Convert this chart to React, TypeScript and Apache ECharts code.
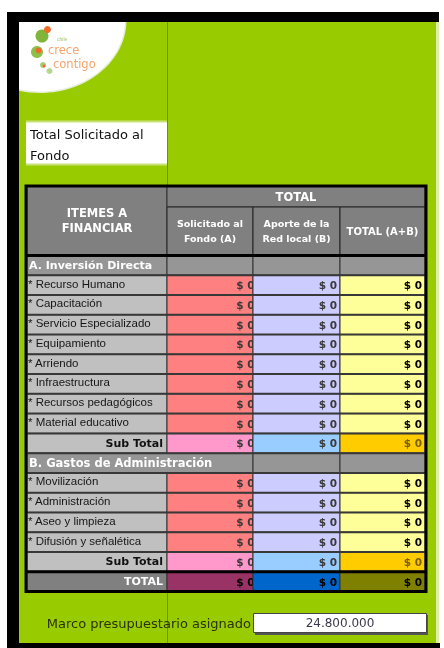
import React, { useEffect, useRef } from "react";
import * as echarts from "echarts";

// ---------- data ----------
const sectionALabel = "A. Inversión Directa";
const sectionBLabel = "B. Gastos de Administración";
const itemsA = [
  "Recurso Humano",
  "Capacitación",
  "Servicio Especializado",
  "Equipamiento",
  "Arriendo",
  "Infraestructura",
  "Recursos pedagógicos",
  "Material educativo",
];
const itemsB = ["Movilización", "Administración", "Aseo y limpieza", "Difusión y señalética"];
const solicitadoA = [0, 0, 0, 0, 0, 0, 0, 0];
const aporteA = [0, 0, 0, 0, 0, 0, 0, 0];
const totalA = [0, 0, 0, 0, 0, 0, 0, 0];
const solicitadoB = [0, 0, 0, 0];
const aporteB = [0, 0, 0, 0];
const totalB = [0, 0, 0, 0];
const subTotalA = [0, 0, 0];
const subTotalB = [0, 0, 0];
const grandTotal = [0, 0, 0];
const headerTop = "TOTAL";
const headerItems = "ITEMES A\nFINANCIAR";
const headerCols = ["Solicitado al\nFondo (A)", "Aporte de la\nRed local (B)", "TOTAL (A+B)"];
const subTotalLabel = "Sub Total";
const totalLabel = "TOTAL";
const titleBox = "Total Solicitado al\nFondo";
const budgetLabel = "Marco presupuestario asignado";
const budgetValue = "24.800.000";

// ---------- layout / styles ----------
const C = [27, 167, 253, 340, 425];
const T_TOP = 186;
const H1 = 207;
const H2 = 255.5;
const T_BOT = 591.5;

const fills: Record<string, string[]> = {
  item: ["#C0C0C0", "#FF8080", "#CCCCFF", "#FFFF99"],
  sub: ["#C0C0C0", "#FF99CC", "#99CCFF", "#FFCC00"],
  total: ["#808080", "#993366", "#0066CC", "#808000"],
  section: ["#969696", "#969696", "#969696", "#969696"],
};
const valColors: Record<string, string[]> = {
  item: ["#3a3a3a", "#3a3a3a", "#000000"],
  sub: ["#3a3a3a", "#3a3a3a", "#7a6000"],
  total: ["#000000", "#000000", "#000000"],
};

const fmt = (v: number) => "$ " + v;

function txt(x: number, y: number, text: string, font: string, fill: string, align = "left", lh?: number): any {
  const style: any = {
    text,
    font,
    fill,
    align,
    verticalAlign: "middle",
    textAlign: align,
    textVerticalAlign: "middle",
  };
  if (lh) style.lineHeight = lh;
  return { type: "text", x, y, silent: true, style };
}
function rect(x: number, y: number, w: number, h: number, fill: string, stroke?: string, lw = 1): any {
  return {
    type: "rect",
    silent: true,
    shape: { x, y, width: w, height: h },
    style: { fill, stroke: stroke || null, lineWidth: stroke ? lw : 0 },
  };
}
function line(x1: number, y1: number, x2: number, y2: number, stroke: string, lw = 1): any {
  return { type: "line", silent: true, shape: { x1, y1, x2, y2 }, style: { stroke, lineWidth: lw } };
}

type Row = { type: string; label?: string; vals?: number[] };

function buildRows(): Row[] {
  const rows: Row[] = [];
  rows.push({ type: "section", label: sectionALabel });
  itemsA.forEach((n, i) => rows.push({ type: "item", label: "* " + n, vals: [solicitadoA[i], aporteA[i], totalA[i]] }));
  rows.push({ type: "sub", label: subTotalLabel, vals: subTotalA });
  rows.push({ type: "section", label: sectionBLabel });
  itemsB.forEach((n, i) => rows.push({ type: "item", label: "* " + n, vals: [solicitadoB[i], aporteB[i], totalB[i]] }));
  rows.push({ type: "sub", label: subTotalLabel, vals: subTotalB });
  rows.push({ type: "total", label: totalLabel, vals: grandTotal });
  return rows;
}

function buildElements(): any[] {
  const els: any[] = [];
  const BOLD = "'DejaVu Sans', Verdana, sans-serif";
  const SANS = "'Liberation Sans', Arial, sans-serif";

  // page background & sheet
  els.push(rect(0, 0, 444, 648, "#ffffff"));
  els.push(rect(7, 12, 432, 636, "#000000"));
  els.push(rect(19, 22, 417, 621, "#99CC00"));
  els.push(rect(436, 22, 3, 621, "#DDEEA8"));
  els.push(line(167.5, 22, 167.5, 643, "#6E9200", 1));

  // logo
  els.push({
    type: "ellipse",
    silent: true,
    shape: { cx: 40, cy: 20, rx: 86.5, ry: 73 },
    style: { fill: "#E6EDD6" },
  });
  els.push({
    type: "ellipse",
    silent: true,
    shape: { cx: 40, cy: 20, rx: 85, ry: 71.5 },
    style: { fill: "#ffffff" },
  });
  els.push({ type: "circle", silent: true, shape: { cx: 42, cy: 36, r: 6.5 }, style: { fill: "#7FB53A" } });
  els.push({ type: "circle", silent: true, shape: { cx: 47.5, cy: 29.5, r: 3.5 }, style: { fill: "#F26A2A" } });
  els.push({ type: "circle", silent: true, shape: { cx: 37, cy: 52, r: 6 }, style: { fill: "#8CC04A" } });
  els.push({ type: "circle", silent: true, shape: { cx: 38.5, cy: 50.5, r: 3 }, style: { fill: "#F26A2A" } });
  els.push({ type: "circle", silent: true, shape: { cx: 43, cy: 65, r: 3 }, style: { fill: "#A6CC7A" } });
  els.push({ type: "circle", silent: true, shape: { cx: 44, cy: 66, r: 1.4 }, style: { fill: "#F26A2A" } });
  els.push({ type: "circle", silent: true, shape: { cx: 49.5, cy: 71, r: 3 }, style: { fill: "#B5D68E" } });
  els.push(txt(57, 39, "chile", "5px " + SANS, "#A5C46A"));
  els.push(txt(48, 49.5, "crece", "11.5px " + BOLD, "#F4A46E"));
  els.push(txt(53, 63.5, "contigo", "11.5px " + BOLD, "#F4A46E"));

  // white page margins and black frame over logo
  els.push(rect(0, 0, 444, 12, "#ffffff"));
  els.push(rect(0, 0, 7, 648, "#ffffff"));
  els.push(rect(7, 12, 432, 10, "#000000"));
  els.push(rect(7, 12, 12, 636, "#000000"));
  els.push(rect(7, 643, 433, 5, "#000000"));

  // title box
  els.push(rect(26, 121, 141, 44, "#ffffff"));
  els.push(line(26, 121.5, 167, 121.5, "#C9E27A", 2));
  els.push(line(26, 164.5, 167, 164.5, "#C9E27A", 2));
  els.push(txt(30, 145, titleBox, "13px " + BOLD, "#101010", "left", 21));

  // table body
  const rows = buildRows();
  const rowH = (T_BOT - H2) / rows.length;
  const rowY = (i: number) => H2 + i * rowH;

  // label column
  rows.forEach((r, i) => {
    const y = rowY(i);
    const f = fills[r.type];
    const mergeB = r.type === "section" && r.label === sectionBLabel;
    const w = mergeB ? C[2] - C[0] : C[1] - C[0];
    els.push(rect(C[0], y, w, rowH, f[0], "#333333", 1));
  });
  // data columns, column by column (next column covers overflow like the sheet)
  for (let c = 0; c < 3; c++) {
    rows.forEach((r, i) => {
      const y = rowY(i);
      const mergeB = r.type === "section" && r.label === sectionBLabel;
      if (mergeB && c === 0) return;
      els.push(rect(C[c + 1], y, C[c + 2] - C[c + 1], rowH, fills[r.type][c + 1], "#333333", 1));
    });
    rows.forEach((r, i) => {
      if (!r.vals) return;
      const y = rowY(i) + rowH / 2;
      const xr = c === 0 ? C[c + 2] + 1.5 : C[c + 2] - 3;
      els.push(txt(xr, y, fmt(r.vals[c]), "bold 10.5px " + BOLD, valColors[r.type][c], "right"));
    });
  }
  // horizontal separators
  for (let i = 1; i < rows.length; i++) {
    els.push(line(C[0], rowY(i), C[4], rowY(i), "#383838", 2));
  }
  // label texts
  rows.forEach((r, i) => {
    const y = rowY(i) + rowH / 2;
    if (r.type === "section") {
      const fs = r.label === sectionBLabel ? "11.5px " : "11px ";
      els.push(txt(29, y, r.label!, "bold " + fs + BOLD, "#ffffff", "left"));
    } else if (r.type === "item") {
      els.push(txt(28, y - 1.5, r.label!, "11.5px " + SANS, "#151515", "left"));
    } else if (r.type === "sub") {
      els.push(txt(163, y, r.label!, "bold 11px " + BOLD, "#111111", "right"));
    } else {
      els.push(txt(163, y, r.label!, "bold 11px " + BOLD, "#ffffff", "right"));
    }
  });

  // header
  els.push(rect(C[0], T_TOP, C[1] - C[0], H2 - T_TOP, "#808080", "#333333", 1));
  els.push(rect(C[1], T_TOP, C[4] - C[1], H1 - T_TOP, "#808080", "#333333", 1));
  for (let c = 0; c < 3; c++) {
    els.push(rect(C[c + 1], H1, C[c + 2] - C[c + 1], H2 - H1, "#808080", "#222222", 1));
  }
  els.push(txt((C[0] + C[1]) / 2, 220.5, headerItems, "bold 11.5px " + BOLD, "#ffffff", "center", 15));
  els.push(txt((C[1] + C[4]) / 2, 197, headerTop, "bold 11.5px " + BOLD, "#ffffff", "center"));
  headerCols.forEach((h, c) => {
    const cx = (C[c + 1] + C[c + 2]) / 2;
    const multi = h.indexOf("\n") >= 0;
    els.push(
      txt(cx, 231, h, (multi ? "bold 9.5px " : "bold 10px ") + BOLD, "#ffffff", "center", 15)
    );
  });

  // thick lines & outer border
  els.push(line(C[0], H2, C[4], H2, "#000000", 3));
  els.push(line(C[0], rowY(rows.length - 1), C[4], rowY(rows.length - 1), "#000000", 3));
  els.push({
    type: "rect",
    silent: true,
    shape: { x: 26, y: T_TOP, width: C[4] - 26 + 1, height: T_BOT - T_TOP },
    style: { fill: null, stroke: "#000000", lineWidth: 3 },
  });

  // budget
  els.push(txt(251, 623, budgetLabel, "13px " + BOLD, "#2A3300", "right"));
  els.push(rect(255, 615, 173, 20, "#555555"));
  els.push(rect(253.5, 613.5, 173, 19, "#ffffff", "#444444", 1));
  els.push(txt(340, 623, budgetValue, "12px " + BOLD, "#3A3A4A", "center"));

  return els;
}

export default function App() {
  const ref = useRef<HTMLDivElement>(null);
  useEffect(() => {
    const chart = echarts.init(ref.current!, null, { renderer: "svg" });
    chart.setOption({ animation: false, graphic: { elements: buildElements() } });
    return () => chart.dispose();
  }, []);
  return (
    <div
      ref={ref}
      style={{ position: "fixed", left: 0, top: 0, width: 444, height: 648 }}
    />
  );
}
